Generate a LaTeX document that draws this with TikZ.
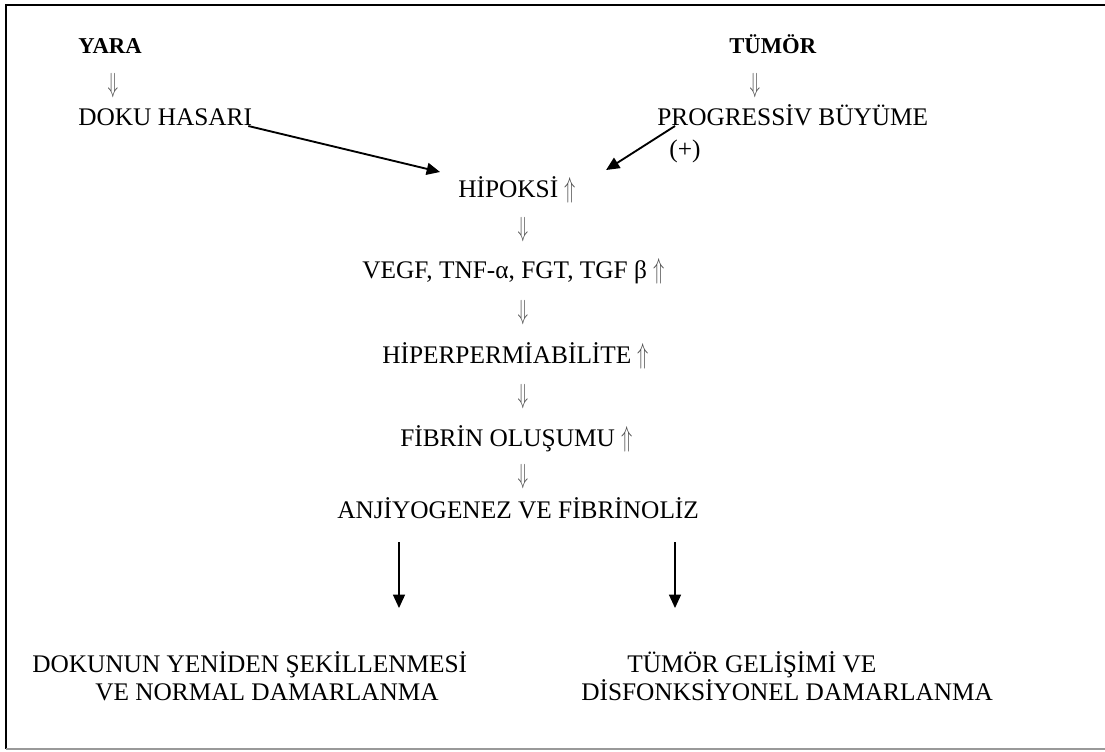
\documentclass[tikz,border=0pt]{standalone}
\usepackage{fontspec}
\setmainfont{Liberation Serif}
\usetikzlibrary{arrows.meta, calc}
\newcommand{\artis}{{\color{black!70}\scalebox{0.8}[1.25]{$\Uparrow$}}}
\newcommand{\azalis}{\scalebox{0.75}[1.2]{$\Downarrow$}}

\begin{document}
\begin{tikzpicture}[x=0.75pt, y=-0.75pt,
		txt/.style={inner sep=0pt, anchor=base west, font=\fontsize{19}{22}\selectfont},
		hd/.style={inner sep=0pt, anchor=base west, font=\bfseries\fontsize{17}{20}\selectfont},
		dn/.style={inner sep=0pt, text=black!70, font=\fontsize{19}{22}\selectfont},
		arr/.style={-{Triangle[length=10pt,width=9pt]}, line width=1.4pt}]
		\useasboundingbox (0,0) rectangle (1105,751);
		\draw[line width=2.2pt] (1105,5) -- (6,5) -- (6,749);
		\draw[black!40, line width=1pt] (6,749) -- (1105,749);

		\draw (78,53) node[hd] (yara) {YARA}
		(113,86) node[dn] (yaradn) {\azalis}
		(78,125) node[txt] (doku) {DOKU HASARI}
		(729,53) node[hd] (tumor) {TÜMÖR}
		(755,86) node[dn] (tumordn) {\azalis}
		(657,125) node[txt] (prog) {PROGRESSİV BÜYÜME}
		(685,151) node[txt, anchor=center] (plus) {(+)}
		(458,197) node[txt] (hipoksi) {HİPOKSİ \artis}
		(523,230) node[dn] (dn1) {\azalis}
		(362,278) node[txt] (vegf) {VEGF, TNF-α, FGT, TGF β \artis}
		(523,313) node[dn] (dn2) {\azalis}
		(382,363) node[txt] (hiper) {HİPERPERMİABİLİTE \artis}
		(523,397) node[dn] (dn3) {\azalis}
		(400,446) node[txt] (fibrin) {FİBRİN OLUŞUMU \artis}
		(523,477) node[dn] (dn4) {\azalis}
		(337,518) node[txt] (anj) {ANJİYOGENEZ VE FİBRİNOLİZ}
		(32,672) node[txt] (doku1) {DOKUNUN YENİDEN ŞEKİLLENMESİ}
		(95,700) node[txt] (doku2) {VE NORMAL DAMARLANMA}
		(627,672) node[txt] (tumor1) {TÜMÖR GELİŞİMİ VE}
		(581,700) node[txt] (tumor2) {DİSFONKSİYONEL DAMARLANMA};

		\coordinate (sol) at (399,608);
		\coordinate (sag) at (675,608);

		\draw[arr] ($(doku.base east)+(-4,1)$) -- ($(hipoksi.base west)+(-18,-25)$);
		\draw[arr] ($(prog.base west)+(18,1)$) -- ($(hipoksi.base east)+(30,-27)$);
		\draw[arr, line width=1pt] ($(anj.base west)+(62,24)$) -- (sol);
		\draw[arr, line width=1pt] ($(anj.base west)+(338,24)$) -- (sag);
	\end{tikzpicture}
\end{document}
